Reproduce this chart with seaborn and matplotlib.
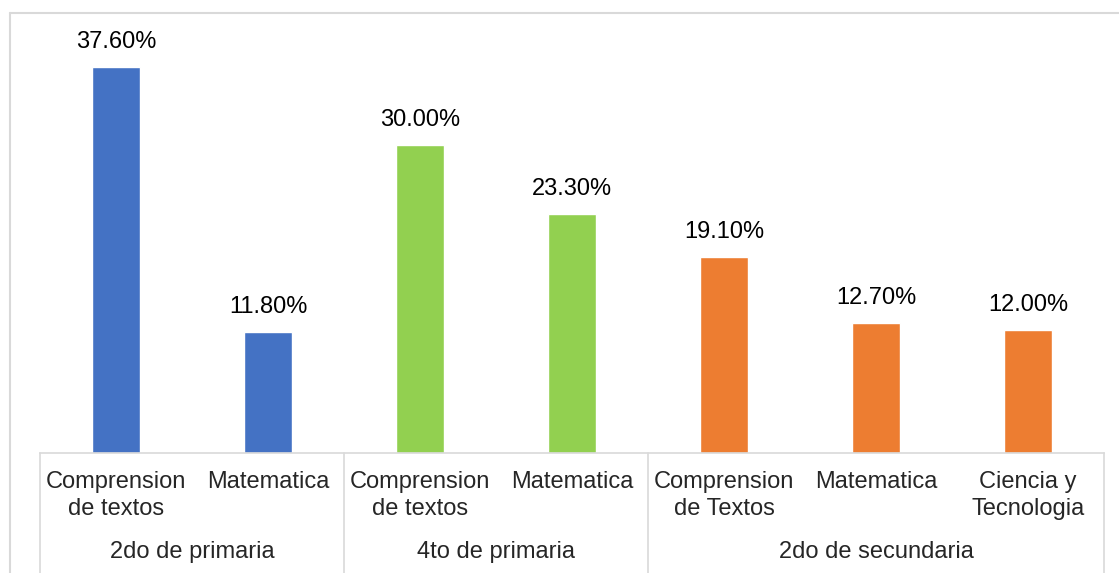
import pandas as pd
import seaborn as sns
import matplotlib.pyplot as plt
from matplotlib.lines import Line2D
import matplotlib.transforms as mtransforms

# data
subjects = ["Comprension\nde textos", "Matematica",
            "Comprension\nde textos", "Matematica",
            "Comprension\nde Textos", "Matematica", "Ciencia y\nTecnologia"]
grades = ["2do de primaria", "2do de primaria",
          "4to de primaria", "4to de primaria",
          "2do de secundaria", "2do de secundaria", "2do de secundaria"]
values = [37.6, 11.8, 30.0, 23.3, 19.1, 12.7, 12.0]
grade_order = ["2do de primaria", "4to de primaria", "2do de secundaria"]
colors = ["#4472C4", "#92D050", "#ED7D31"]

W, H = 1119, 573
sns.set_style("white")
plt.rcParams['font.family'] = ['Liberation Sans', 'DejaVu Sans']
FS = 17

df = pd.DataFrame({"pos": range(len(values)), "value": values, "grade": grades})

fig = plt.figure(figsize=(W / 100, H / 100), dpi=100)
ax = fig.add_axes([40 / W, (H - 453) / H, (1104 - 40) / W, (453 - 42) / H])
sns.barplot(data=df, x="pos", y="value", hue="grade", hue_order=grade_order,
            palette=colors, dodge=False, width=0.31, legend=False, ax=ax,
            saturation=1)
ax.set_xlim(-0.5, len(values) - 0.5)
ax.set_ylim(0, 40)
ax.set_xlabel("")
ax.set_ylabel("")
ax.set_xticks([])
ax.set_yticks([])
for s in ["top", "right", "left"]:
    ax.spines[s].set_visible(False)
ax.spines["bottom"].set_color("#d9d9d9")
ax.spines["bottom"].set_linewidth(1.2)

# value labels
for p, v in zip(df["pos"], values):
    ax.annotate(f"{v:.2f}%", (p, v), xytext=(0, 18), textcoords="offset points",
                ha="center", va="center", fontsize=FS, color="black")

# category labels (two levels)
tr = mtransforms.blended_transform_factory(ax.transData, ax.transAxes)
px = 1 / (453 - 42)
for p, lab in zip(df["pos"], subjects):
    for k, line in enumerate(lab.split("\n")):
        ax.text(p, -(482 - 453 + 27 * k) * px, line, transform=tr,
                ha="center", va="center", fontsize=FS)
start = 0
for g in grade_order:
    n = grades.count(g)
    ax.text(start + (n - 1) / 2, -(552 - 453) * px, g, transform=tr,
            ha="center", va="center", fontsize=FS)
    start += n

# separators between groups
bounds = [-0.5]
for g in grade_order:
    bounds.append(bounds[-1] + grades.count(g))
for b in bounds:
    ax.add_line(Line2D([b, b], [0, -(600 - 453) * px], transform=tr,
                       color="#d9d9d9", lw=1.2, clip_on=False))

# outer chart frame
fig.add_artist(Line2D([10 / W, 1], [(H - 13) / H] * 2, color="#d9d9d9", lw=1.5))
fig.add_artist(Line2D([10 / W] * 2, [(H - 13) / H, 0], color="#d9d9d9", lw=1.5))

fig.savefig("out.png", dpi=100, facecolor="white")
